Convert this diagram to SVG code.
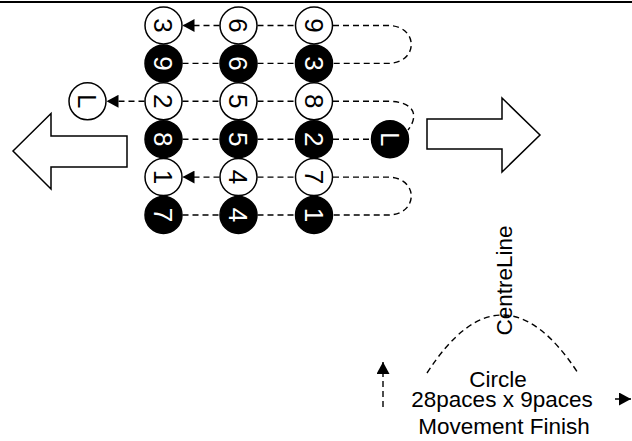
<svg xmlns="http://www.w3.org/2000/svg" width="632" height="441" viewBox="0 0 632 441">
<style>
.w{fill:#fff;stroke:#000;stroke-width:1.5}
.b{fill:#000;stroke:#000;stroke-width:1.5}
.tw{fill:#000;font-family:"Liberation Sans",Arial,sans-serif;font-size:26px;text-anchor:middle}
.tb{fill:#fff;font-family:"Liberation Sans",Arial,sans-serif;font-size:26px;text-anchor:middle}
.d{fill:none;stroke:#000;stroke-width:1.4;stroke-dasharray:6,4}
.big{fill:#fff;stroke:#000;stroke-width:1.5;stroke-linejoin:miter}
.lbl{fill:#000;font-family:"Liberation Sans",Arial,sans-serif;font-size:22.5px;text-anchor:middle}
</style>
<defs>
<marker id="ah" viewBox="0 0 12 13" refX="12" refY="6.5" markerWidth="12" markerHeight="13" markerUnits="userSpaceOnUse" orient="auto">
<path d="M0,0 L12,6.5 L0,13 z" fill="#000"/>
</marker>
</defs>
<line x1="0" y1="2" x2="632" y2="2" stroke="#000" stroke-width="2"/>
<g id="connectors">
<line class="d" x1="219.5" y1="25.5" x2="182.5" y2="25.5" marker-end="url(#ah)"/>
<line class="d" x1="257.5" y1="25.5" x2="295" y2="25.5"/>
<path class="d" d="M333,25.5 H388 C419,25.5 419,63.4 388,63.4 H333"/>
<line class="d" x1="182.5" y1="63.4" x2="219.5" y2="63.4"/>
<line class="d" x1="257.5" y1="63.4" x2="295" y2="63.4"/>
<line class="d" x1="144.5" y1="101.3" x2="106.5" y2="101.3" marker-end="url(#ah)"/>
<line class="d" x1="182.5" y1="101.3" x2="219.5" y2="101.3"/>
<line class="d" x1="257.5" y1="101.3" x2="295" y2="101.3"/>
<path class="d" d="M333,101.3 H388 C415,101.3 419,116 408,130"/>
<line class="d" x1="182.5" y1="139.2" x2="219.5" y2="139.2"/>
<line class="d" x1="257.5" y1="139.2" x2="295" y2="139.2"/>
<line class="d" x1="333" y1="139.2" x2="371" y2="139.2"/>
<line class="d" x1="219.5" y1="177.1" x2="182.5" y2="177.1" marker-end="url(#ah)"/>
<line class="d" x1="257.5" y1="177.1" x2="295" y2="177.1"/>
<path class="d" d="M333,177.1 H388 C419,177.1 419,215 388,215 H333"/>
<line class="d" x1="182.5" y1="215" x2="219.5" y2="215"/>
<line class="d" x1="257.5" y1="215" x2="295" y2="215"/>
<path class="d" d="M427,373 Q502,257 578,373"/>
<line class="d" x1="383" y1="407" x2="383" y2="362" marker-end="url(#ah)"/>
<line class="d" x1="615" y1="399" x2="631" y2="399" marker-end="url(#ah)"/>
</g>
<g id="arrow-left"><polygon class="big" points="13,151 51,113.5 51,136 127,136 127,167 51,167 51,189"/></g>
<g id="arrow-right"><polygon class="big" points="427,119 502,119 502,98 540,135 502,172 502,149 427,149"/></g>
<g id="n-3a"><circle class="w" cx="163.5" cy="25.5" r="18.5"/><text class="tw" transform="translate(163.5,25.5) rotate(90)" y="9.3">3</text></g>
<g id="n-6a"><circle class="w" cx="238.5" cy="25.5" r="18.5"/><text class="tw" transform="translate(238.5,25.5) rotate(90)" y="9.3">6</text></g>
<g id="n-9a"><circle class="w" cx="314" cy="25.5" r="18.5"/><text class="tw" transform="translate(314,25.5) rotate(90)" y="9.3">9</text></g>
<g id="n-9b"><circle class="b" cx="163.5" cy="63.4" r="18.5"/><text class="tb" transform="translate(163.5,63.4) rotate(90)" y="9.3">9</text></g>
<g id="n-6b"><circle class="b" cx="238.5" cy="63.4" r="18.5"/><text class="tb" transform="translate(238.5,63.4) rotate(90)" y="9.3">6</text></g>
<g id="n-3b"><circle class="b" cx="314" cy="63.4" r="18.5"/><text class="tb" transform="translate(314,63.4) rotate(90)" y="9.3">3</text></g>
<g id="n-La"><circle class="w" cx="87.5" cy="101.3" r="18.5"/><text class="tw" transform="translate(87.5,101.3) rotate(90)" y="9.3">L</text></g>
<g id="n-2a"><circle class="w" cx="163.5" cy="101.3" r="18.5"/><text class="tw" transform="translate(163.5,101.3) rotate(90)" y="9.3">2</text></g>
<g id="n-5a"><circle class="w" cx="238.5" cy="101.3" r="18.5"/><text class="tw" transform="translate(238.5,101.3) rotate(90)" y="9.3">5</text></g>
<g id="n-8a"><circle class="w" cx="314" cy="101.3" r="18.5"/><text class="tw" transform="translate(314,101.3) rotate(90)" y="9.3">8</text></g>
<g id="n-8b"><circle class="b" cx="163.5" cy="139.2" r="18.5"/><text class="tb" transform="translate(163.5,139.2) rotate(90)" y="9.3">8</text></g>
<g id="n-5b"><circle class="b" cx="238.5" cy="139.2" r="18.5"/><text class="tb" transform="translate(238.5,139.2) rotate(90)" y="9.3">5</text></g>
<g id="n-2b"><circle class="b" cx="314" cy="139.2" r="18.5"/><text class="tb" transform="translate(314,139.2) rotate(90)" y="9.3">2</text></g>
<g id="n-Lb"><circle class="b" cx="390" cy="139.2" r="18.5"/><text class="tb" transform="translate(390,139.2) rotate(90)" y="9.3">L</text></g>
<g id="n-1a"><circle class="w" cx="163.5" cy="177.1" r="18.5"/><text class="tw" transform="translate(163.5,177.1) rotate(90)" y="9.3">1</text></g>
<g id="n-4a"><circle class="w" cx="238.5" cy="177.1" r="18.5"/><text class="tw" transform="translate(238.5,177.1) rotate(90)" y="9.3">4</text></g>
<g id="n-7a"><circle class="w" cx="314" cy="177.1" r="18.5"/><text class="tw" transform="translate(314,177.1) rotate(90)" y="9.3">7</text></g>
<g id="n-7b"><circle class="b" cx="163.5" cy="215" r="18.5"/><text class="tb" transform="translate(163.5,215) rotate(90)" y="9.3">7</text></g>
<g id="n-4b"><circle class="b" cx="238.5" cy="215" r="18.5"/><text class="tb" transform="translate(238.5,215) rotate(90)" y="9.3">4</text></g>
<g id="n-1b"><circle class="b" cx="314" cy="215" r="18.5"/><text class="tb" transform="translate(314,215) rotate(90)" y="9.3">1</text></g>
<g id="labels">
<text class="lbl" transform="translate(512,280.5) rotate(-90)" x="0" y="0">CentreLine</text>
<text class="lbl" x="498" y="387">Circle</text>
<text class="lbl" x="502" y="407">28paces x 9paces</text>
<text class="lbl" x="504" y="434">Movement Finish</text>
</g>
</svg>
